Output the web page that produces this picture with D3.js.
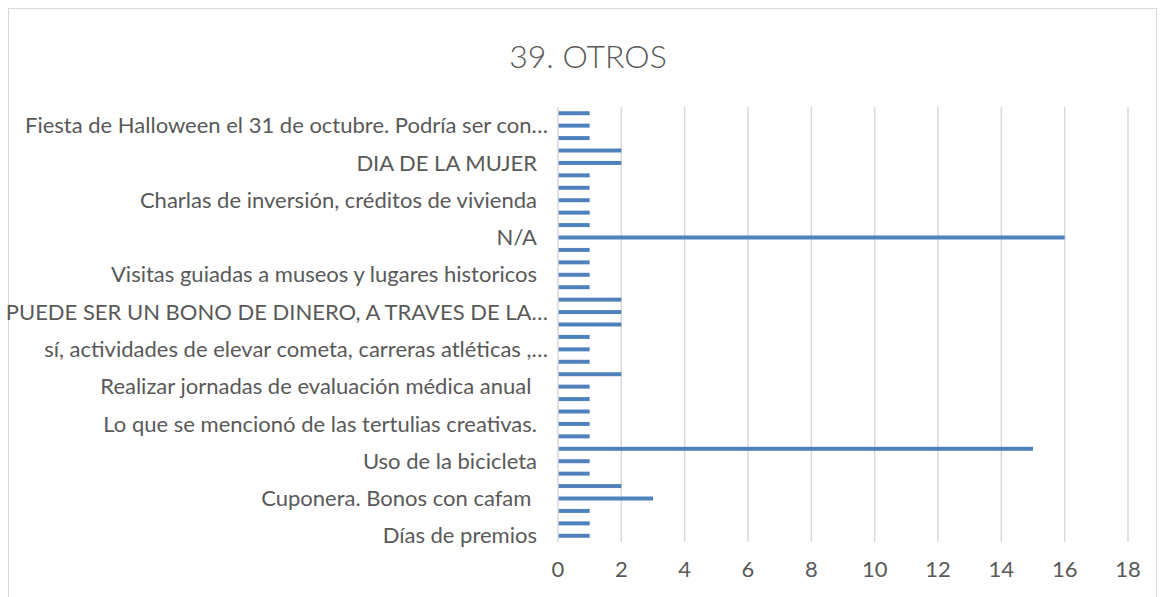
<!DOCTYPE html>
<html>
<head>
<meta charset="utf-8">
<script src="https://cdn.jsdelivr.net/npm/d3@7"></script>
<style>
  body { margin: 0; background: #fff; }
  text { font-family: Lato, "Open Sans", sans-serif; fill: #595959; }
</style>
</head>
<body>
<script>
// categories listed bottom to top (Excel order); only every third label is shown
var categories = [
    "Días de premios", "", "",
    "Cuponera. Bonos con cafam ", "", "",
    "Uso de la bicicleta", "", "",
    "Lo que se mencionó de las tertulias creativas.", "", "",
    "Realizar jornadas de evaluación médica anual ", "", "",
    "sí, actividades de elevar cometa, carreras atléticas ,…", "", "",
    "PUEDE SER UN BONO DE DINERO, A TRAVES DE LA…", "", "",
    "Visitas guiadas a museos y lugares historicos", "", "",
    "N/A", "", "",
    "Charlas de inversión, créditos de vivienda", "", "",
    "DIA DE LA MUJER", "", "",
    "Fiesta de Halloween el 31 de octubre. Podría ser con…", ""
];
var values = [1, 1, 1, 3, 2, 1, 1, 15, 1, 1, 1, 1, 1, 2, 1, 1, 1, 2, 2, 2,
              1, 1, 1, 1, 16, 1, 1, 1, 1, 1, 2, 2, 1, 1, 1];
var xTicks = [0, 2, 4, 6, 8, 10, 12, 14, 16, 18];
var title = "39. OTROS";

var width = 1165;
var height = 597;
var margin = { top: 107, right: 37, bottom: 55, left: 558 };

var svg = d3.select("body")
    .append("svg")
    .attr("width", width)
    .attr("height", height);

// chart frame
svg.append("rect")
    .attr("x", 8.5)
    .attr("y", 8.5)
    .attr("width", 1148)
    .attr("height", 620)
    .attr("fill", "none")
    .attr("stroke", "#d9d9d9");

svg.append("text")
    .attr("x", 588)
    .attr("y", 68)
    .attr("text-anchor", "middle")
    .style("font-size", "32px")
    .style("font-weight", 300)
    .text(title);

var x = d3.scaleLinear()
    .domain([0, 18])
    .range([margin.left, width - margin.right]);

var idx = d3.range(categories.length);
var y = d3.scaleBand()
    .domain(idx)
    .range([height - margin.bottom, margin.top])
    .paddingInner(0.68)
    .paddingOuter(0.34);

// gridlines
svg.append("g")
    .selectAll("line")
    .data(xTicks.slice(1))
    .enter()
    .append("line")
    .attr("x1", function(d) { return x(d); })
    .attr("x2", function(d) { return x(d); })
    .attr("y1", margin.top)
    .attr("y2", height - margin.bottom)
    .attr("stroke", "#d9d9d9")
    .attr("stroke-width", 1.5);

// bars
svg.append("g")
    .selectAll("rect")
    .data(values)
    .enter()
    .append("rect")
    .attr("x", x(0))
    .attr("y", function(d, i) { return y(i); })
    .attr("width", function(d) { return x(d) - x(0); })
    .attr("height", y.bandwidth())
    .attr("fill", "#4f81bd");

// category axis line
svg.append("line")
    .attr("x1", x(0))
    .attr("x2", x(0))
    .attr("y1", margin.top)
    .attr("y2", height - margin.bottom)
    .attr("stroke", "#d9d9d9")
    .attr("stroke-width", 1.5);

// category labels
svg.append("g")
    .selectAll("text")
    .data(idx.filter(function(i) { return categories[i] !== ""; }))
    .enter()
    .append("text")
    .attr("x", function(i) { return categories[i].slice(-1) === "…" ? 548 : 537; })
    .attr("y", function(i) { return y(i) + y.bandwidth() / 2; })
    .attr("dy", "0.35em")
    .attr("text-anchor", "end")
    .style("font-size", "22px")
    .style("white-space", "pre")
    .text(function(i) { return categories[i]; });

// value axis labels
svg.append("g")
    .selectAll("text")
    .data(xTicks)
    .enter()
    .append("text")
    .attr("x", function(d) { return x(d); })
    .attr("y", 569)
    .attr("dy", "0.35em")
    .attr("text-anchor", "middle")
    .style("font-size", "22px")
    .text(function(d) { return d; });
</script>
</body>
</html>
